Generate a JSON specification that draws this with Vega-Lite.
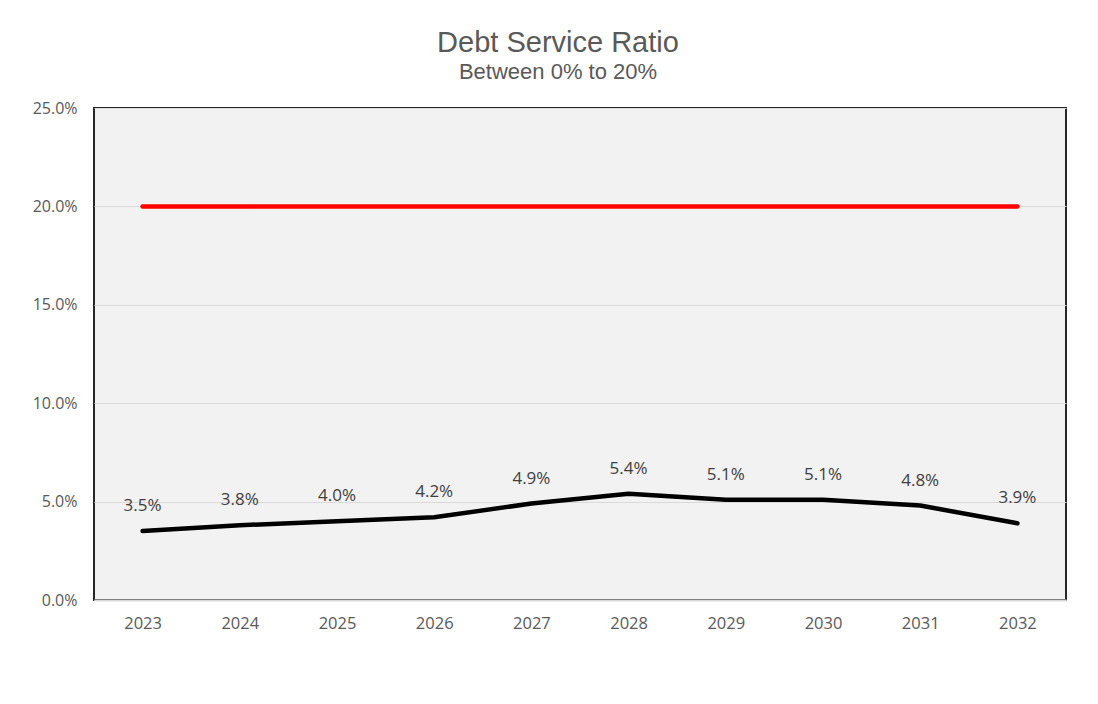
{
  "$schema": "https://vega.github.io/schema/vega-lite/v6.json",
  "width": 972,
  "height": 492,
  "autosize": {"type": "none"},
  "padding": {"left": 94, "top": 108, "right": 32, "bottom": 104},
  "background": "#ffffff",
  "title": {
    "text": "Debt Service Ratio",
    "subtitle": "Between 0% to 20%",
    "anchor": "middle",
    "frame": "group",
    "dx": -22,
    "offset": 17,
    "font": "Liberation Sans",
    "fontSize": 29,
    "fontWeight": "normal",
    "color": "#595959",
    "subtitleFont": "Liberation Sans",
    "subtitleFontSize": 22,
    "subtitleColor": "#595959",
    "subtitlePadding": 4
  },
  "data": {
    "values": [
      {"year": "2023", "ratio": 0.035, "limit": 0.20},
      {"year": "2024", "ratio": 0.038, "limit": 0.20},
      {"year": "2025", "ratio": 0.040, "limit": 0.20},
      {"year": "2026", "ratio": 0.042, "limit": 0.20},
      {"year": "2027", "ratio": 0.049, "limit": 0.20},
      {"year": "2028", "ratio": 0.054, "limit": 0.20},
      {"year": "2029", "ratio": 0.051, "limit": 0.20},
      {"year": "2030", "ratio": 0.051, "limit": 0.20},
      {"year": "2031", "ratio": 0.048, "limit": 0.20},
      {"year": "2032", "ratio": 0.039, "limit": 0.20}
    ]
  },
  "encoding": {
    "x": {
      "field": "year",
      "type": "ordinal",
      "scale": {"type": "point", "padding": 0.5},
      "axis": {
        "title": null,
        "labelAngle": 0,
        "ticks": false,
        "grid": false,
        "domainColor": "#d9d9d9",
        "domainWidth": 2,
        "labelFont": "Open Sans",
        "labelFontSize": 16.5,
        "labelColor": "#595959",
        "labelPadding": 15
      }
    }
  },
  "layer": [
    {
      "mark": {"type": "line", "color": "#ff0000", "strokeWidth": 4.5, "strokeCap": "round"},
      "encoding": {
        "y": {
          "field": "limit",
          "type": "quantitative",
          "scale": {"domain": [0, 0.25], "nice": false},
          "axis": {
            "title": null,
            "values": [0, 0.05, 0.10, 0.15, 0.20, 0.25],
            "format": ".1%",
            "domain": false,
            "ticks": false,
            "grid": true,
            "gridColor": "#d9d9d9",
            "gridWidth": 1,
            "labelFont": "Open Sans",
            "labelFontSize": 16,
            "labelColor": "#595959",
            "labelPadding": 17
          }
        }
      }
    },
    {
      "mark": {"type": "line", "color": "#000000", "strokeWidth": 4.5, "strokeCap": "round", "strokeJoin": "round"},
      "encoding": {
        "y": {"field": "ratio", "type": "quantitative"}
      }
    },
    {
      "mark": {"type": "text", "dy": -25, "font": "Open Sans", "fontSize": 17, "color": "#404040", "baseline": "middle"},
      "encoding": {
        "y": {"field": "ratio", "type": "quantitative"},
        "text": {"field": "ratio", "type": "quantitative", "format": ".1%"}
      }
    }
  ],
  "config": {
    "view": {"fill": "#f2f2f2", "stroke": "#262626", "strokeWidth": 2}
  }
}
